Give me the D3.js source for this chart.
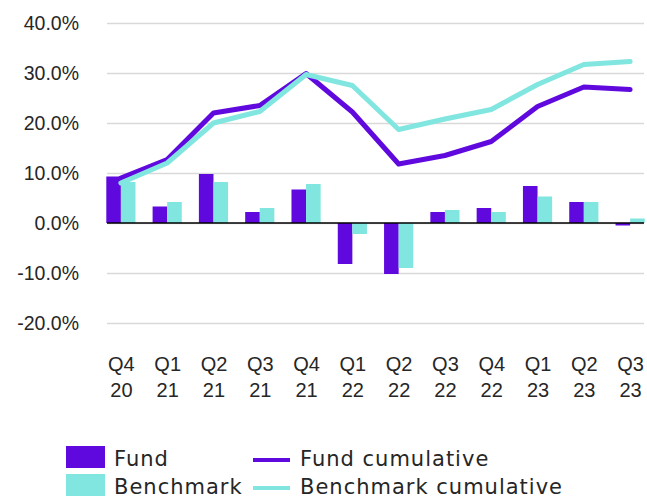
<!DOCTYPE html>
<html>
<head>
<meta charset="utf-8">
<script src="https://cdn.jsdelivr.net/npm/d3@7"></script>
<style>
  body { margin: 0; background: #fff; }
  svg { display: block; font-family: "DejaVu Sans", sans-serif; }
</style>
</head>
<body>
<div id="chart"></div>
<script>
// quarter labels, first line and second line
const quarters = ["Q4 20", "Q1 21", "Q2 21", "Q3 21", "Q4 21", "Q1 22", "Q2 22", "Q3 22", "Q4 22", "Q1 23", "Q2 23", "Q3 23"];
const fund = [9.3, 3.3, 9.8, 2.2, 6.7, -8.2, -10.2, 2.2, 3.0, 7.4, 4.2, -0.5];
const benchmark = [8.2, 4.2, 8.2, 3.0, 7.8, -2.2, -9.0, 2.6, 2.2, 5.3, 4.2, 0.9];
const fundCumulative = [9.0, 12.7, 22.0, 23.5, 29.9, 22.2, 11.8, 13.5, 16.3, 23.3, 27.2, 26.7];
const benchCumulative = [8.0, 12.0, 20.0, 22.3, 29.7, 27.5, 18.7, 20.8, 22.7, 27.7, 31.7, 32.3];
const yTicks = [-20, -10, 0, 10, 20, 30, 40];

const width = 647, height = 498;
const plot = { left: 107, right: 644, top: 23, bottom: 323 };
const purple = "#6009de";
const cyan = "#80e6df";
const textColor = "#262626";

const svg = d3.select("#chart").append("svg")
  .attr("width", width)
  .attr("height", height);

// SCALES
const xScale = d3.scalePoint()
  .domain(quarters)
  .range([plot.left, plot.right])
  .padding(0.3);

const yScale = d3.scaleLinear()
  .domain([-20, 40])
  .range([plot.bottom, plot.top]);

const barW = xScale.step() * 0.315;

// y axis with gridlines
const yAxis = d3.axisLeft(yScale)
  .tickValues(yTicks)
  .tickSize(-(plot.right - plot.left))
  .tickPadding(28)
  .tickFormat((d) => d.toFixed(1) + "%");

const yG = svg.append("g")
  .attr("transform", `translate(${plot.left},0)`)
  .call(yAxis);
yG.select(".domain").remove();
yG.selectAll("line").attr("stroke", "#d9d9d9").attr("stroke-width", 1.5);
yG.selectAll("text")
  .attr("fill", textColor)
  .style("font-size", "19.5px");

// x axis labels, two lines each
const xAxis = d3.axisBottom(xScale).tickSize(0).tickFormat("");
const xG = svg.append("g")
  .attr("transform", `translate(0,${plot.bottom})`)
  .call(xAxis);
xG.select(".domain").remove();
xG.selectAll(".tick").append("text")
  .attr("fill", textColor)
  .attr("text-anchor", "middle")
  .style("font-size", "20px")
  .selectAll("tspan")
  .data((d) => d.split(" "))
  .join("tspan")
  .attr("x", 0)
  .attr("y", (d, i) => 48 + i * 26)
  .text((d) => d);

// bars
svg.append("g").selectAll("rect")
  .data(fund)
  .join("rect")
  .attr("x", (d, i) => xScale(quarters[i]) - barW)
  .attr("y", (d) => yScale(Math.max(0, d)))
  .attr("width", barW)
  .attr("height", (d) => Math.abs(yScale(d) - yScale(0)))
  .attr("fill", purple);

svg.append("g").selectAll("rect")
  .data(benchmark)
  .join("rect")
  .attr("x", (d, i) => xScale(quarters[i]))
  .attr("y", (d) => yScale(Math.max(0, d)))
  .attr("width", barW)
  .attr("height", (d) => Math.abs(yScale(d) - yScale(0)))
  .attr("fill", cyan);

// zero line
svg.append("line")
  .attr("x1", plot.left)
  .attr("x2", plot.right)
  .attr("y1", yScale(0))
  .attr("y2", yScale(0))
  .attr("stroke", "#000")
  .attr("stroke-width", 1.5);

// cumulative lines
const line = d3.line()
  .x((d, i) => xScale(quarters[i]))
  .y((d) => yScale(d));

svg.append("path")
  .datum(fundCumulative)
  .attr("d", line)
  .attr("fill", "none")
  .attr("stroke", purple)
  .attr("stroke-width", 5)
  .attr("stroke-linecap", "round")
  .attr("stroke-linejoin", "round");

svg.append("path")
  .datum(benchCumulative)
  .attr("d", line)
  .attr("fill", "none")
  .attr("stroke", cyan)
  .attr("stroke-width", 5)
  .attr("stroke-linecap", "round")
  .attr("stroke-linejoin", "round");

// legend
const legend = [
  { name: "Fund", type: "bar", color: purple, x: 66, y: 457 },
  { name: "Benchmark", type: "bar", color: cyan, x: 66, y: 485 },
  { name: "Fund cumulative", type: "line", color: purple, x: 253, y: 457 },
  { name: "Benchmark cumulative", type: "line", color: cyan, x: 253, y: 485 }
];

const lg = svg.append("g").selectAll("g")
  .data(legend)
  .join("g")
  .attr("transform", (d) => `translate(${d.x},${d.y})`);

lg.filter((d) => d.type === "bar").append("rect")
  .attr("x", 0)
  .attr("y", -11)
  .attr("width", 39)
  .attr("height", 22)
  .attr("fill", (d) => d.color);

lg.filter((d) => d.type === "line").append("line")
  .attr("x1", 0)
  .attr("x2", 37)
  .attr("y1", 3)
  .attr("y2", 3)
  .attr("stroke", (d) => d.color)
  .attr("stroke-width", 4);

lg.append("text")
  .attr("x", (d) => (d.type === "bar" ? 48 : 47))
  .attr("y", 9)
  .attr("fill", textColor)
  .style("font-size", "21px")
  .style("letter-spacing", "1px")
  .text((d) => d.name);
</script>
</body>
</html>
